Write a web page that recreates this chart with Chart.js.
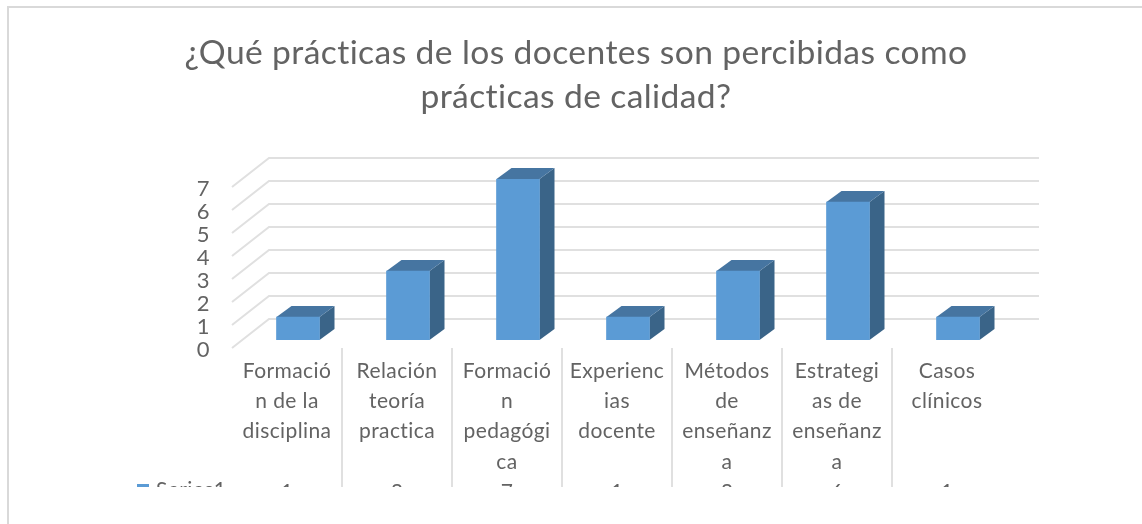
<!DOCTYPE html>
<html>
<head>
<meta charset="utf-8">
<style>
  html, body { margin: 0; padding: 0; background: #fff; }
  #box { position: relative; width: 1142px; height: 524px; }
  #myChart { display: block; filter: blur(0.45px); }
</style>
</head>
<body>
<div id="box"><canvas id="myChart" width="1142" height="524"></canvas></div>
<script src="https://cdn.jsdelivr.net/npm/chart.js@4"></script>
<script>
const titleLines = ['¿Qué prácticas de los docentes son percibidas como', 'prácticas de calidad?'];
const seriesName = 'Series1';
const categories = [
    ['Formació', 'n de la', 'disciplina'],
    ['Relación', 'teoría', 'practica'],
    ['Formació', 'n', 'pedagógi', 'ca'],
    ['Experienc', 'ias', 'docente'],
    ['Métodos', 'de', 'enseñanz', 'a'],
    ['Estrategi', 'as de', 'enseñanz', 'a'],
    ['Casos', 'clínicos']
];
const values = [1, 3, 7, 1, 3, 6, 1];
const yTicks = [0, 1, 2, 3, 4, 5, 6, 7];

const gridColor = '#e0e0e0';
const textColor = '#636363';
const fontName = 'Lato';

// the data table row sits under the label lines, both are cut off at the bottom
function tickLines(i) {
    let lines = categories[i].slice();
    while (lines.length < 4) lines.push('');
    lines.push(String(values[i]));
    return lines;
}

// fake 3d: the scale carries the tick labels, bars and wall are pushed back from it
const frontShift = { x: 0, y: -1.5 };
const barShift = { x: 11, y: -9.5 };
const barDepth = { x: 15, y: -11 };
const wallShift = { x: 37, y: -30.5 };
const tableBottom = 487;

const wall3d = {
    id: 'wall3d',
    beforeDraw(chart) {
        // also switches off the Lato "ti" ligature
        chart.ctx.letterSpacing = '0.4px';
    },
    beforeDatasetsDraw(chart) {
        const ctx = chart.ctx;
        const sx = chart.scales.x, sy = chart.scales.y;
        ctx.save();
        ctx.strokeStyle = gridColor;
        ctx.lineWidth = 2;
        yTicks.forEach(v => {
            const y = sy.getPixelForValue(v);
            ctx.beginPath();
            ctx.moveTo(sx.left, y + frontShift.y);
            ctx.lineTo(sx.left + wallShift.x, y + wallShift.y);
            ctx.lineTo(sx.right + wallShift.x, y + wallShift.y);
            ctx.stroke();
        });
        ctx.restore();

        // bars get moved with the context, restored in afterDatasetsDraw
        ctx.save();
        ctx.translate(barShift.x, barShift.y);
        chart.getDatasetMeta(0).data.forEach(bar => {
            const l = bar.x - bar.width / 2, r = bar.x + bar.width / 2;
            ctx.fillStyle = '#3a6488';
            ctx.beginPath();
            ctx.moveTo(r, bar.y);
            ctx.lineTo(r + barDepth.x, bar.y + barDepth.y);
            ctx.lineTo(r + barDepth.x, bar.base + barDepth.y);
            ctx.lineTo(r, bar.base);
            ctx.fill();
            ctx.fillStyle = '#4675a1';
            ctx.beginPath();
            ctx.moveTo(l, bar.y);
            ctx.lineTo(l + barDepth.x, bar.y + barDepth.y);
            ctx.lineTo(r + barDepth.x, bar.y + barDepth.y);
            ctx.lineTo(r, bar.y);
            ctx.fill();
        });
    },
    afterDatasetsDraw(chart) {
        chart.ctx.restore();
    },
    afterDraw(chart) {
        const ctx = chart.ctx;
        const sx = chart.scales.x, sy = chart.scales.y;
        ctx.save();
        // cover what hangs under the table edge
        ctx.fillStyle = '#fff';
        ctx.fillRect(sx.left, tableBottom, sx.width, 30);

        // table separators
        ctx.strokeStyle = gridColor;
        ctx.lineWidth = 2;
        for (let i = 1; i < categories.length; i++) {
            const x = (sx.getPixelForValue(i - 1) + sx.getPixelForValue(i)) / 2;
            ctx.beginPath();
            ctx.moveTo(x, sy.bottom + frontShift.y);
            ctx.lineTo(x, tableBottom);
            ctx.stroke();
        }

        // legend key and name in the table, cut the same way
        ctx.beginPath();
        ctx.rect(100, 440, 130, tableBottom - 440);
        ctx.clip();
        ctx.fillStyle = '#5b9bd5';
        ctx.fillRect(137, 484, 12, 3);
        ctx.fillStyle = textColor;
        ctx.font = '21px ' + fontName;
        ctx.textAlign = 'left';
        ctx.textBaseline = 'middle';
        ctx.fillText(seriesName, 156, 490);
        ctx.restore();

        // page frame
        ctx.save();
        ctx.strokeStyle = '#d9d9d9';
        ctx.lineWidth = 2;
        ctx.beginPath();
        ctx.moveTo(8, 524);
        ctx.lineTo(8, 7);
        ctx.lineTo(1142, 7);
        ctx.stroke();
        ctx.restore();
    }
};

const myChart = new Chart(document.getElementById('myChart'), {
    type: 'bar',
    data: {
        labels: categories.map((c, i) => tickLines(i)),
        datasets: [{
            label: seriesName,
            data: values,
            backgroundColor: '#5b9bd5',
            borderWidth: 0,
            barThickness: 43
        }]
    },
    plugins: [wall3d],
    options: {
        responsive: false,
        animation: false,
        layout: { padding: { left: 150, right: 140, top: 0, bottom: 0 } },
        plugins: {
            legend: { display: false },
            tooltip: { enabled: false },
            title: {
                display: true,
                text: titleLines,
                color: textColor,
                font: { family: fontName, size: 33.6, weight: 'normal', lineHeight: 1.31 },
                padding: { top: 31, bottom: 69.5 }
            }
        },
        scales: {
            x: {
                grid: { display: false, drawTicks: false },
                border: { display: false },
                afterFit(scale) { scale.height = 174.5; },
                ticks: {
                    color: textColor,
                    font: { family: fontName, size: 21, lineHeight: 1.44 },
                    padding: 6.5,
                    maxRotation: 0,
                    autoSkip: false
                }
            },
            y: {
                min: 0,
                max: 7,
                grid: { display: false, drawTicks: false },
                border: { display: false },
                afterFit(scale) { scale.width = 82; },
                afterBuildTicks(scale) { scale.ticks = yTicks.map(v => ({ value: v })); },
                ticks: {
                    color: textColor,
                    font: { family: fontName, size: 22 },
                    padding: 22,
                    autoSkip: false
                }
            }
        }
    }
});
</script>
</body>
</html>
